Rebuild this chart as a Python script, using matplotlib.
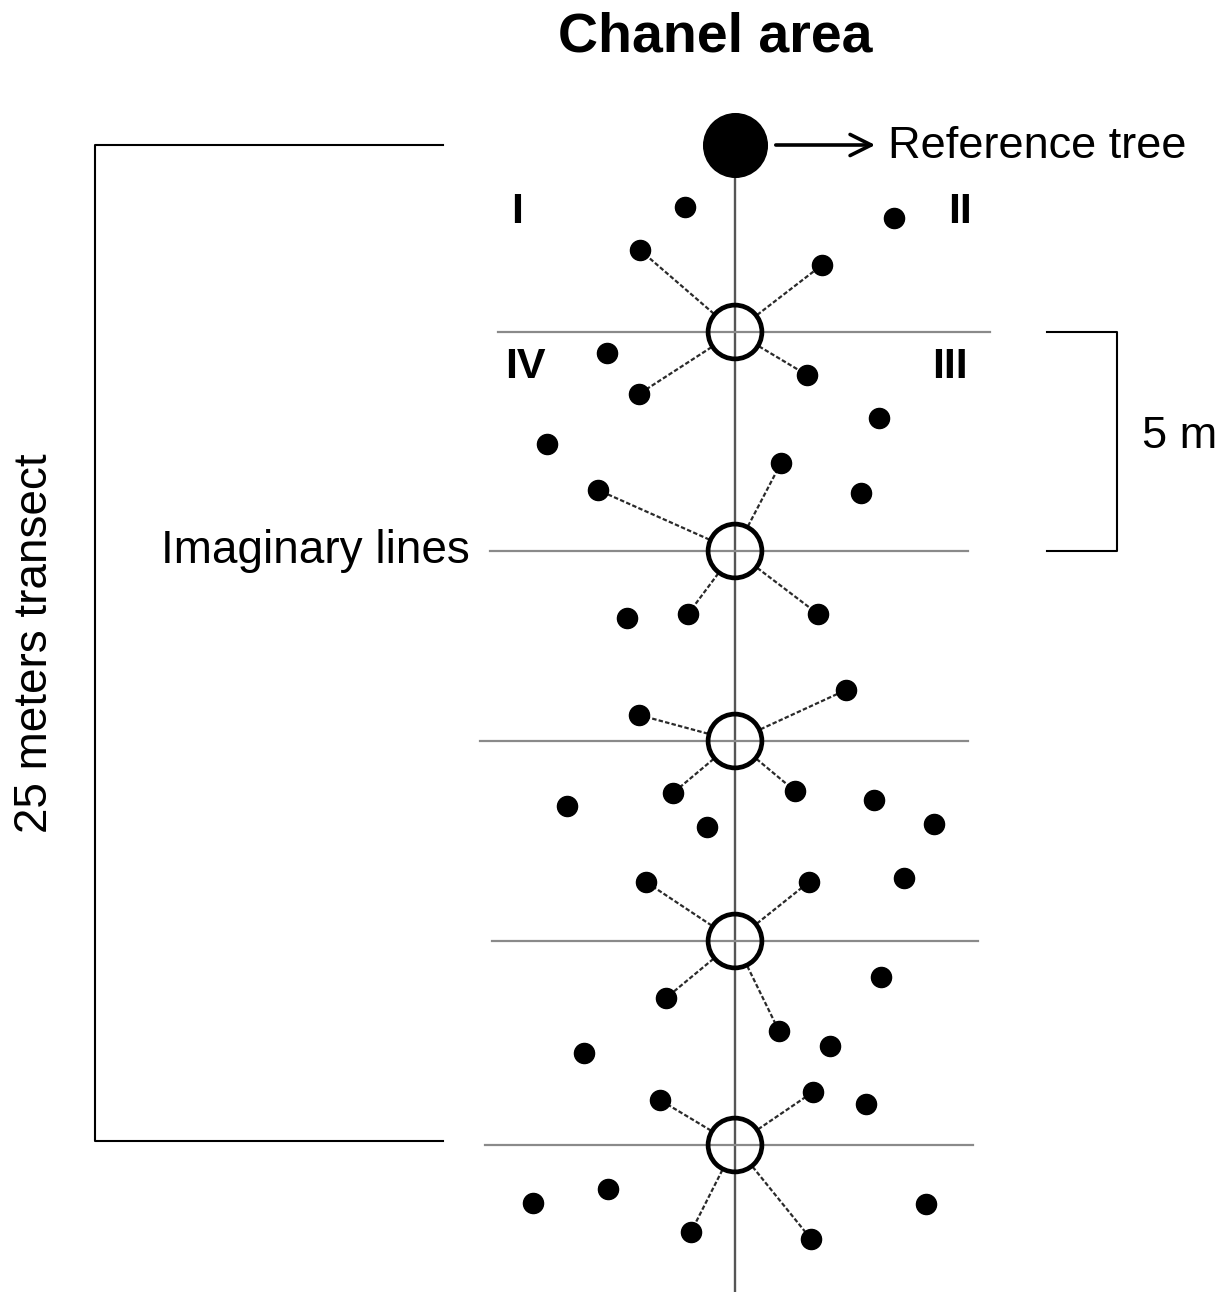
import numpy as np
import matplotlib.pyplot as plt
from matplotlib import font_manager

# font: condensed family for the side label if available
names = {f.name for f in font_manager.fontManager.ttflist}
narrow = 'Liberation Sans Narrow' if 'Liberation Sans Narrow' in names else 'Liberation Sans'
plt.rcParams['font.family'] = ['Liberation Sans', 'DejaVu Sans']

# layout of the transect (image-like units)
transect_x = 735
ref_tree = (735, 145)
center_y = [332, 551, 741, 941, 1145]
line_left = [498, 490, 480, 492, 485]
line_right = [990, 968, 968, 978, 973]

# neighbour trees linked to each centre point
link_x = [[640, 822, 639, 807],
          [598, 781, 688, 818],
          [639, 846, 673, 795],
          [646, 809, 666, 779],
          [660, 813, 691, 811]]
link_y = [[250, 265, 394, 375],
          [490, 463, 614, 614],
          [715, 690, 793, 791],
          [882, 882, 998, 1031],
          [1100, 1092, 1232, 1239]]

# other trees
free_x = [685, 894, 607, 879, 547, 861, 627, 567, 707, 874, 934, 904, 881, 584, 830, 866, 533, 608, 926]
free_y = [207, 218, 353, 418, 444, 493, 618, 806, 827, 800, 824, 878, 977, 1053, 1046, 1104, 1203, 1189, 1204]

quadrants = ['I', 'II', 'IV', 'III']
quad_x = [517, 960, 525, 950]
quad_y = [212, 212, 367, 367]

fig = plt.figure(figsize=(12.27, 12.92), dpi=100)
ax = fig.add_axes([0, 0, 1, 1])
ax.set_xlim(0, 1227)
ax.set_ylim(1292, 0)
ax.axis('off')

# main transect line
ax.plot([transect_x, transect_x], [ref_tree[1], 1292], color='#555555', lw=1.7, zorder=1)

# imaginary lines
for y, l, r in zip(center_y, line_left, line_right):
    ax.plot([l, r], [y, y], color='#8a8a8a', lw=1.6, zorder=1)

# dashed links from circle edge to neighbours
r_circ = 28
for i, cy in enumerate(center_y):
    for px, py in zip(link_x[i], link_y[i]):
        d = np.hypot(px - transect_x, py - cy)
        sx = transect_x + r_circ * (px - transect_x) / d
        sy = cy + r_circ * (py - cy) / d
        ax.plot([sx, px], [sy, py], color='#2a2a2a', lw=1.6, ls=(0, (2, 1)), zorder=2)
    ax.scatter(link_x[i], link_y[i], s=210, color='black', zorder=3)

ax.scatter(free_x, free_y, s=210, color='black', zorder=3)

# centre points (open circles)
ax.scatter([transect_x] * len(center_y), center_y, s=1500, facecolors='none',
           edgecolors='black', linewidths=3.4, zorder=4)

# reference tree
ax.scatter([ref_tree[0]], [ref_tree[1]], s=2100, color='black', zorder=4)
ax.annotate('', xy=(878, 145), xytext=(773, 145),
            arrowprops=dict(arrowstyle='->', lw=2.6, color='black', mutation_scale=38))
ax.text(888, 147, 'Reference tree', fontsize=32.5, va='center', ha='left')

# quadrant labels
for q, qx, qy in zip(quadrants, quad_x, quad_y):
    ax.text(qx, qy, q, fontsize=31, fontweight='bold', ha='center', va='center')

ax.text(715, 37, 'Chanel area', fontsize=40, fontweight='bold', ha='center', va='center')
ax.text(470, 551, 'Imaginary lines', fontsize=33, ha='right', va='center')

# 25 m bracket
ax.plot([443, 95, 95, 443], [145, 145, 1141, 1141], color='black', lw=1.5)
ax.text(35, 643, '25 meters transect', fontsize=33, rotation=90, ha='center', va='center',
        family=[narrow, 'DejaVu Sans'])

# 5 m bracket
ax.plot([1047, 1117, 1117, 1047], [332, 332, 551, 551], color='black', lw=1.5)
ax.text(1142, 437, '5 m', fontsize=32.5, ha='left', va='center')

fig.savefig('out.png', dpi=100)
